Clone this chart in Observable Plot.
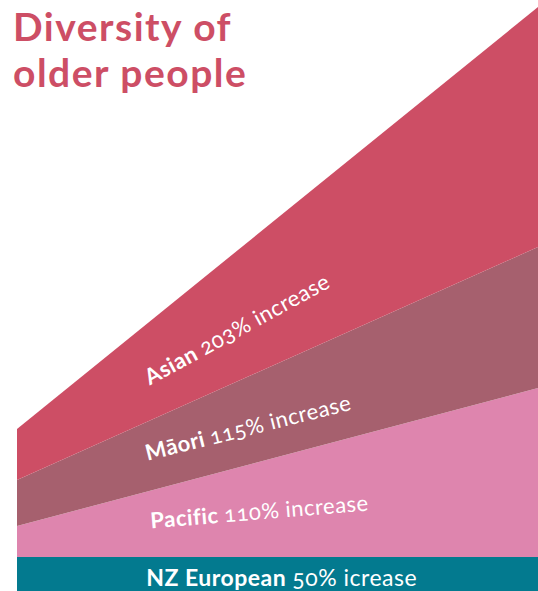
<!DOCTYPE html>
<html>
<head>
<meta charset="utf-8">
<script src="https://cdn.jsdelivr.net/npm/d3@7"></script>
<script src="https://cdn.jsdelivr.net/npm/@observablehq/plot@0.6"></script>
<style>
  html, body { margin: 0; padding: 0; background: #fff; }
  #wrap { position: relative; width: 538px; height: 591px; overflow: hidden; }
  #title {
    position: absolute; left: 13px; top: 3px; margin: 0;
    font-family: Lato, "Open Sans", sans-serif; font-weight: 700;
    font-size: 39px; line-height: 46px; letter-spacing: 1.5px; color: #CD4E65; z-index: 2;
  }
  svg text { font-family: Lato, "Open Sans", sans-serif; font-variant-numeric: oldstyle-nums; letter-spacing: 0.5px; }
</style>
</head>
<body>
<div id="wrap">
  <h1 id="title">Diversity of<br>older people</h1>
</div>
<script>
// ---- data ----
const periods = [0, 1];                                   // start, end of period
const groups = ["NZ European", "Pacific", "Māori", "Asian"]; // bottom to top
const startValues = [34, 31, 46, 51];
const endValues = [34, 169, 141, 240];
const increases = ["50% icrease", "110% increase", "115% increase", "203% increase"];
const colors = ["#037A8F", "#DE85AE", "#A6606E", "#CD4E65"];

// ---- label placement (annotation layout) ----
const labelFrac = [0.507, 0.4645, 0.443, 0.422];
const labelDy = [4, 2.5, 7, 13];
const labelRotate = [0, -4.7, -14, -28.6];
const labelSize = [23, 22, 22, 22];

const data = groups.flatMap((g, i) => [
  {t: periods[0], group: g, v: startValues[i]},
  {t: periods[1], group: g, v: endValues[i]}
]);

const labels = groups.map((g, i) => {
  const f = labelFrac[i];
  const val = j => startValues[j] + (endValues[j] - startValues[j]) * f;
  let lower = 0;
  for (let j = 0; j < i; j++) lower += val(j);
  const mid = lower + val(i) / 2;
  return {group: g, text: g + " " + increases[i], t: f, y: mid - labelDy[i], rotate: labelRotate[i], size: labelSize[i]};
});

const chart = Plot.plot({
  width: 538,
  height: 591,
  marginLeft: 17,
  marginRight: 0,
  marginTop: 0,
  marginBottom: 0,
  x: {domain: [0, 1], axis: null},
  y: {domain: [0, 591], axis: null},
  color: {domain: groups, range: colors},
  marks: [
    Plot.areaY(data, {x: "t", y: "v", fill: "group", order: groups, curve: "linear"}),
    Plot.text(labels, {x: "t", y: "y", text: "text", rotate: "rotate", fill: "white", fontSize: "size", textAnchor: "middle", lineAnchor: "middle"})
  ]
});

// bold group name, regular remainder
chart.querySelectorAll('g[aria-label="text"] text').forEach(el => {
  const full = el.textContent;
  const g = groups.find(n => full.startsWith(n));
  if (!g) return;
  el.textContent = "";
  const b = document.createElementNS("http://www.w3.org/2000/svg", "tspan");
  b.setAttribute("font-weight", "700");
  b.textContent = g + " ";
  const r = document.createElementNS("http://www.w3.org/2000/svg", "tspan");
  r.setAttribute("font-weight", "400");
  r.textContent = full.slice(g.length + 1);
  el.appendChild(b);
  el.appendChild(r);
});

chart.style.position = "absolute";
chart.style.left = "0";
chart.style.top = "0";
document.getElementById("wrap").appendChild(chart);
</script>
</body>
</html>
